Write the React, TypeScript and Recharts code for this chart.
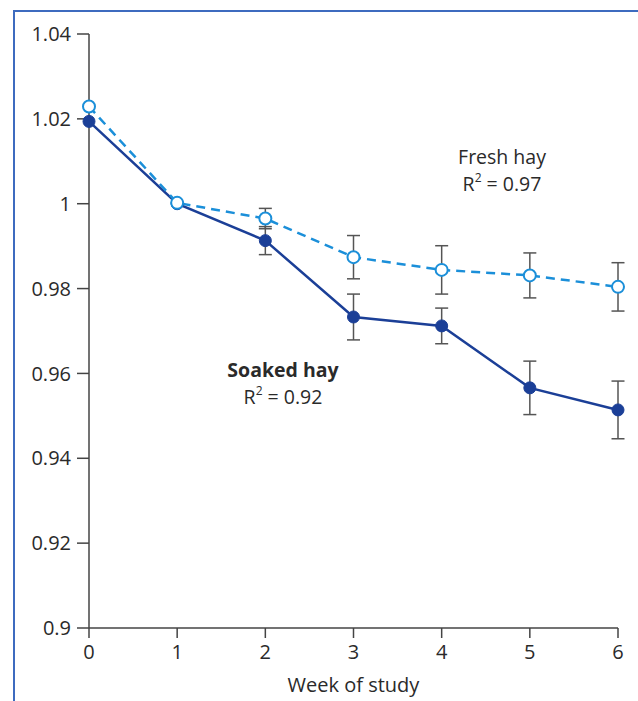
import React from 'react';
import { LineChart, Line, XAxis, YAxis, ErrorBar } from 'recharts';

const weeks = [0, 1, 2, 3, 4, 5, 6];
const soakedHay = [1.0194, 1.0, 0.9913, 0.9733, 0.9712, 0.9566, 0.9514];
const soakedErr = [null, null, 0.0033, 0.0054, 0.0042, 0.0063, 0.0068];
const freshHay = [1.0229, 1.0002, 0.9965, 0.9874, 0.9844, 0.9831, 0.9804];
const freshErr = [null, null, 0.0024, 0.0051, 0.0057, 0.0053, 0.0057];
const yTicks = [0.9, 0.92, 0.94, 0.96, 0.98, 1, 1.02, 1.04];

const data = weeks.map((w, i) => ({
  week: w,
  soaked: soakedHay[i],
  soakedErr: soakedErr[i],
  fresh: freshHay[i],
  freshErr: freshErr[i],
}));

const FONT = '"Open Sans", sans-serif';
const DARK = '#1b3f97';
const LIGHT = '#1b8fd9';
const AXIS = '#444';
const TEXT = '#2a2a2a';

const fmt = (v: number) => String(Number(v.toFixed(2)));

const App: React.FC = () => {
  return (
    <div style={{ position: 'absolute', left: 0, top: 0, width: 638, height: 701, background: '#fff', fontFamily: FONT }}>
      {/* card frame */}
      <div
        style={{
          position: 'absolute',
          left: 13,
          top: 10,
          width: 640,
          height: 700,
          borderTop: '2px solid #3d6bbf',
          borderLeft: '2px solid #3d6bbf',
        }}
      />
      <div style={{ position: 'absolute', left: 0, top: 0 }}>
        <LineChart
          width={638}
          height={701}
          data={data}
          margin={{ top: 34, right: 20, left: 19, bottom: 3 }}
        >
          <XAxis
            dataKey="week"
            type="number"
            domain={[0, 6]}
            ticks={weeks}
            height={70}
            stroke={AXIS}
            strokeWidth={1.5}
            tickSize={10}
            tickMargin={7}
            tick={{ fill: TEXT, fontSize: 20, fontFamily: FONT }}
            label={{ value: 'Week of study', position: 'insideBottom', offset: 6, fill: TEXT, fontSize: 20, fontFamily: FONT }}
          />
          <YAxis
            type="number"
            domain={[0.9, 1.04]}
            ticks={yTicks}
            width={70}
            stroke={AXIS}
            strokeWidth={1.5}
            tickSize={12}
            tickMargin={6}
            tickFormatter={fmt}
            tick={{ fill: TEXT, fontSize: 20, fontFamily: FONT }}
          />
          <Line
            dataKey="soaked"
            stroke={DARK}
            strokeWidth={2.5}
            isAnimationActive={false}
            dot={{ r: 6, fill: DARK, stroke: DARK, strokeWidth: 1 }}
          >
            <ErrorBar dataKey="soakedErr" width={6.5} stroke="#555" strokeWidth={1.5} direction="y" />
          </Line>
          <Line
            dataKey="fresh"
            stroke={LIGHT}
            strokeWidth={2.5}
            strokeDasharray="9 6"
            isAnimationActive={false}
            dot={{ r: 6, fill: '#fff', stroke: LIGHT, strokeWidth: 2, strokeDasharray: 'none' }}
          >
            <ErrorBar dataKey="freshErr" width={6.5} stroke="#555" strokeWidth={1.5} direction="y" />
          </Line>
        </LineChart>
      </div>
      {/* annotations */}
      <div style={{ position: 'absolute', left: 402, top: 143, width: 200, textAlign: 'center', color: TEXT, fontSize: 19.5, lineHeight: '27px' }}>
        <div>Fresh hay</div>
        <div>
          R<sup style={{ fontSize: 12, verticalAlign: 'top', lineHeight: '16px' }}>2</sup> = 0.97
        </div>
      </div>
      <div style={{ position: 'absolute', left: 183, top: 356, width: 200, textAlign: 'center', color: TEXT, fontSize: 19.5, lineHeight: '27px' }}>
        <div style={{ fontWeight: 700 }}>Soaked hay</div>
        <div>
          R<sup style={{ fontSize: 12, verticalAlign: 'top', lineHeight: '16px' }}>2</sup> = 0.92
        </div>
      </div>
    </div>
  );
};

export default App;
